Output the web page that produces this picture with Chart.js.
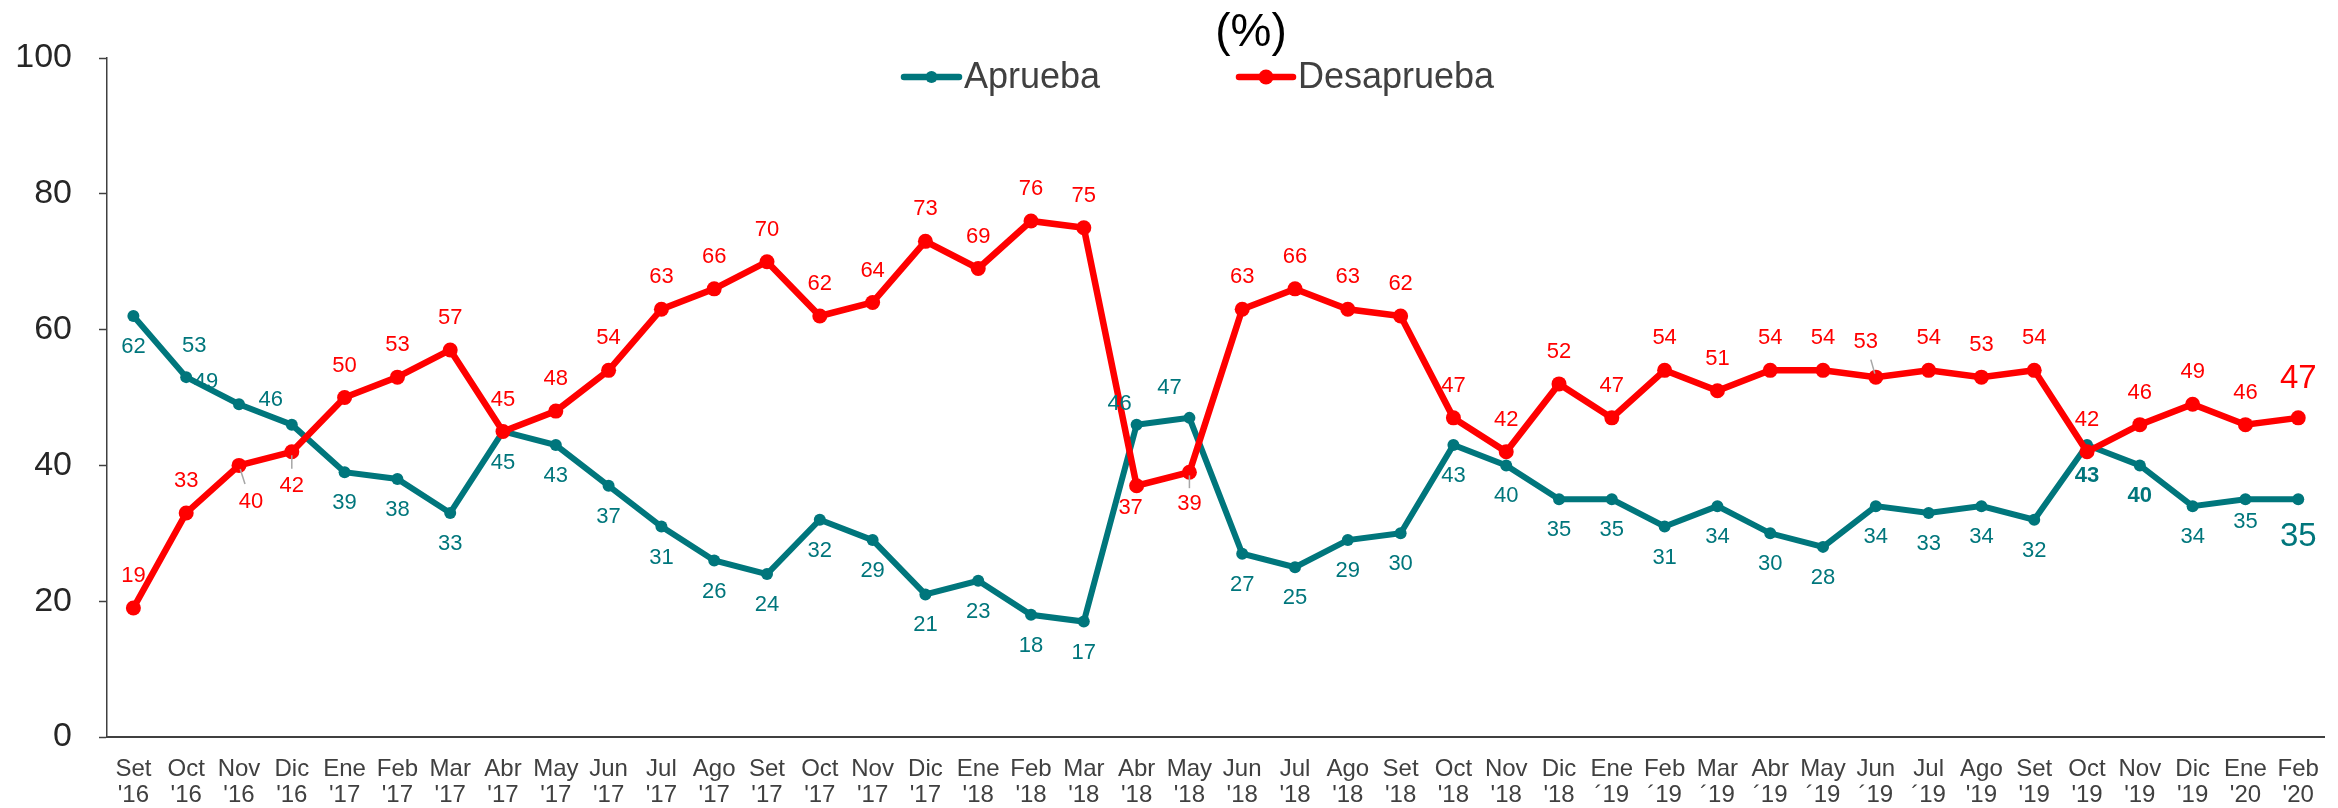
<!DOCTYPE html>
<html>
<head>
<meta charset="utf-8">
<script src="https://cdn.jsdelivr.net/npm/chart.js@4.4.1/dist/chart.umd.min.js"></script>
<style>
  html, body { margin: 0; padding: 0; background: #fff; }
  canvas { display: block; }
</style>
</head>
<body>
<canvas id="chart" width="2338" height="808"></canvas>
<script>
const months = ['Set', 'Oct', 'Nov', 'Dic',
    'Ene', 'Feb', 'Mar', 'Abr', 'May', 'Jun', 'Jul', 'Ago', 'Set', 'Oct', 'Nov', 'Dic',
    'Ene', 'Feb', 'Mar', 'Abr', 'May', 'Jun', 'Jul', 'Ago', 'Set', 'Oct', 'Nov', 'Dic',
    'Ene', 'Feb', 'Mar', 'Abr', 'May', 'Jun', 'Jul', 'Ago', 'Set', 'Oct', 'Nov', 'Dic',
    'Ene', 'Feb'];
const years = ["'16", "'16", "'16", "'16",
    "'17", "'17", "'17", "'17", "'17", "'17", "'17", "'17", "'17", "'17", "'17", "'17",
    "'18", "'18", "'18", "'18", "'18", "'18", "'18", "'18", "'18", "'18", "'18", "'18",
    '´19', '´19', '´19', '´19', '´19', '´19', '´19', "'19", "'19", "'19", "'19", "'19",
    "'20", "'20"];
const aprueba = [62, 53, 49, 46,
    39, 38, 33, 45, 43, 37, 31, 26, 24, 32, 29, 21,
    23, 18, 17, 46, 47, 27, 25, 29, 30, 43, 40, 35,
    35, 31, 34, 30, 28, 34, 33, 34, 32, 43, 40, 34,
    35, 35];
const desaprueba = [19, 33, 40, 42,
    50, 53, 57, 45, 48, 54, 63, 66, 70, 62, 64, 73,
    69, 76, 75, 37, 39, 63, 66, 63, 62, 47, 42, 52,
    47, 54, 51, 54, 54, 53, 54, 53, 54, 42, 46, 49,
    46, 47];
const yTicks = [0, 20, 40, 60, 80, 100];

const TEAL = '#00767C';
const RED = '#FF0000';
const FONT = "'Liberation Sans', Arial, sans-serif";

// where each value label sits relative to its point
const aprLabels = {
    dy: 31,
    special: {
        1: { dx: 8, dy: -31 },
        2: { dx: -33, dy: -22 },
        3: { dx: -21, dy: -25 },
        19: { dx: -17, dy: -21 },
        20: { dx: -20, dy: -30 },
        37: { bold: true },
        38: { bold: true },
        40: { dy: 23 },
        41: { dx: 0, dy: 38, size: 33 }
    }
};
const desLabels = {
    dy: -32,
    special: {
        2: { dx: 12, dy: 37, leader: true },
        3: { dy: 34, leader: true },
        19: { dx: -6, dy: 22 },
        20: { dy: 32, leader: true },
        33: { dx: -10, dy: -35, leader: true },
        41: { dy: -39, size: 33 }
    }
};

const valueLabels = {
    id: 'valueLabels',
    afterDatasetsDraw(chart) {
        const ctx = chart.ctx;
        chart.data.datasets.forEach((ds, di) => {
            const meta = chart.getDatasetMeta(di);
            const place = ds.labelPlace;
            meta.data.forEach((pt, i) => {
                const s = place.special[i] || {};
                const dx = s.dx ?? 0;
                const dy = s.dy ?? place.dy;
                if (s.leader) {
                    ctx.save();
                    ctx.strokeStyle = '#A6A6A6';
                    ctx.lineWidth = 1.5;
                    ctx.beginPath();
                    ctx.moveTo(pt.x + dx * 0.1, pt.y + dy * 0.1);
                    ctx.lineTo(pt.x + dx * 0.5, pt.y + dy * 0.5);
                    ctx.stroke();
                    ctx.restore();
                }
                ctx.save();
                ctx.font = (s.bold ? 'bold ' : '') + (s.size || 22) + 'px ' + FONT;
                ctx.fillStyle = ds.borderColor;
                ctx.textAlign = 'center';
                ctx.textBaseline = 'middle';
                ctx.fillText(String(ds.data[i]), pt.x + dx, pt.y + dy);
                ctx.restore();
            });
        });
    }
};

const headerLegend = {
    id: 'headerLegend',
    afterDraw(chart) {
        const ctx = chart.ctx;
        ctx.save();
        ctx.fillStyle = '#000';
        ctx.font = '46px ' + FONT;
        ctx.textAlign = 'center';
        ctx.textBaseline = 'alphabetic';
        ctx.fillText('(%)', 1251, 46);

        const items = [
            { ds: chart.data.datasets[0], x0: 904, x1: 959, dot: 6, tx: 964 },
            { ds: chart.data.datasets[1], x0: 1239, x1: 1293, dot: 7.5, tx: 1298 }
        ];
        items.forEach(it => {
            ctx.strokeStyle = it.ds.borderColor;
            ctx.lineWidth = 6.5;
            ctx.lineCap = 'round';
            ctx.beginPath();
            ctx.moveTo(it.x0, 77);
            ctx.lineTo(it.x1, 77);
            ctx.stroke();
            ctx.fillStyle = it.ds.borderColor;
            ctx.beginPath();
            ctx.arc((it.x0 + it.x1) / 2, 77, it.dot, 0, Math.PI * 2);
            ctx.fill();
            ctx.fillStyle = '#404040';
            ctx.font = '36px ' + FONT;
            ctx.textAlign = 'left';
            ctx.fillText(it.ds.label, it.tx, 88);
        });
        ctx.restore();
    }
};

new Chart(document.getElementById('chart'), {
    type: 'line',
    data: {
        labels: months.map((m, i) => [m, years[i]]),
        datasets: [
            {
                label: 'Aprueba',
                data: aprueba,
                borderColor: TEAL,
                backgroundColor: TEAL,
                borderWidth: 6,
                pointRadius: 6,
                pointBorderWidth: 0,
                pointBackgroundColor: TEAL,
                tension: 0,
                clip: false,
                order: 1,
                labelPlace: aprLabels
            },
            {
                label: 'Desaprueba',
                data: desaprueba,
                borderColor: RED,
                backgroundColor: RED,
                borderWidth: 6.5,
                pointRadius: 7.5,
                pointBorderWidth: 0,
                pointBackgroundColor: RED,
                tension: 0,
                clip: false,
                order: 0,
                labelPlace: desLabels
            }
        ]
    },
    options: {
        responsive: false,
        animation: false,
        events: [],
        layout: {
            padding: { top: 58, right: 0, left: 0, bottom: 0 }
        },
        plugins: {
            legend: { display: false },
            title: { display: false },
            tooltip: { enabled: false }
        },
        scales: {
            x: {
                offset: true,
                grid: { display: false, drawTicks: false },
                border: { display: true, color: '#404040', width: 2 },
                ticks: {
                    autoSkip: false,
                    maxRotation: 0,
                    minRotation: 0,
                    padding: 19,
                    color: '#404040',
                    font: { family: FONT, size: 24, lineHeight: 1.08 }
                },
                afterFit(scale) { scale.height = 71; }
            },
            y: {
                min: 0,
                max: 100,
                afterBuildTicks(scale) { scale.ticks = yTicks.map(v => ({ value: v })); },
                grid: {
                    drawOnChartArea: false,
                    drawTicks: true,
                    tickLength: 8,
                    tickColor: '#404040',
                    tickWidth: 1.5
                },
                border: { display: true, color: '#404040', width: 1.5 },
                ticks: {
                    padding: 27,
                    color: '#262626',
                    font: { family: FONT, size: 34 }
                },
                afterFit(scale) { scale.width = 107; }
            }
        }
    },
    plugins: [valueLabels, headerLegend]
});
</script>
</body>
</html>
